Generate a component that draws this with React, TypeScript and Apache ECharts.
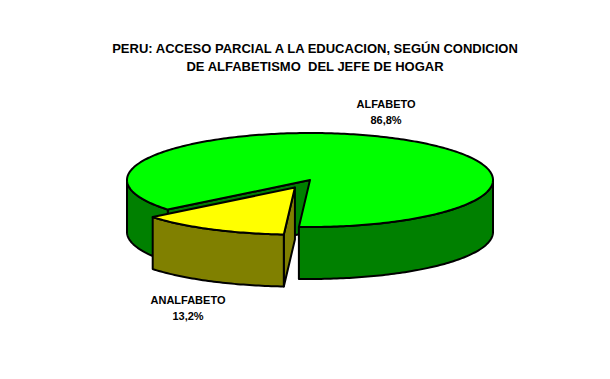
import React, { useEffect, useRef } from 'react';
import * as echarts from 'echarts';

// ---- data ----
const categories = ['ALFABETO', 'ANALFABETO'];
const shares = [86.8, 13.2];
const titleLines = [
  'PERU: ACCESO PARCIAL A LA EDUCACION, SEGÚN CONDICION',
  'DE ALFABETISMO  DEL JEFE DE HOGAR',
];

// ---- styling / layout ----
const topColors = ['#00FF00', '#FFFF00'];
const sideColors = ['#008000', '#808000'];
const explode = [0, 0.18];
const labelPos: [number, number][] = [
  [386, 112],
  [188, 308],
];
const CX = 310;
const CY = 180;
const RX = 183;
const RY = 47;
const DEPTH = 52;
const START = 141; // degrees, clockwise from 3 o'clock (screen coords)
const FONT = "'Liberation Sans', Arial, sans-serif";

const rad = (d: number) => (d * Math.PI) / 180;

function renderItem(params: any, api: any) {
  const i = params.dataIndex;
  const total = shares.reduce((a, b) => a + b, 0);
  let acc = 0;
  for (let j = 0; j < i; j++) acc += shares[j];
  const v = api.value(0);
  const a0 = START + (acc / total) * 360;
  const a1 = a0 + (v / total) * 360;
  const mid = rad((a0 + a1) / 2);
  const cx = CX + explode[i] * RX * Math.cos(mid);
  const cy = CY + explode[i] * RY * Math.sin(mid);
  const pt = (deg: number, dy = 0) => [
    cx + RX * Math.cos(rad(deg)),
    cy + RY * Math.sin(rad(deg)) + dy,
  ];
  const arc = (s: number, e: number, dy: number) => {
    const n = Math.max(2, Math.ceil(Math.abs(e - s)));
    const pts: number[][] = [];
    for (let k = 0; k <= n; k++) pts.push(pt(s + ((e - s) * k) / n, dy));
    return pts;
  };
  const stroke = { stroke: '#000', lineWidth: 2, lineJoin: 'round' };
  const poly = (points: number[][], fill: string) => ({
    type: 'polygon',
    shape: { points },
    style: { fill, ...stroke },
  });
  const children: any[] = [];
  const side = sideColors[i];
  // cut faces (only the ones facing the viewer)
  if (Math.cos(rad(a0)) < 0) {
    children.push(
      poly([[cx, cy], pt(a0), pt(a0, DEPTH), [cx, cy + DEPTH]], side)
    );
  }
  if (Math.cos(rad(a1)) > 0) {
    children.push(
      poly([[cx, cy], pt(a1), pt(a1, DEPTH), [cx, cy + DEPTH]], side)
    );
  }
  // outer wall, front-facing parts
  for (let k = Math.floor(a0 / 360) - 1; k <= Math.ceil(a1 / 360); k++) {
    const s = Math.max(a0, 360 * k);
    const e = Math.min(a1, 360 * k + 180);
    if (e > s) {
      children.push(poly(arc(s, e, 0).concat(arc(e, s, DEPTH)), side));
    }
  }
  // top face
  children.push(poly([[cx, cy], ...arc(a0, a1, 0)], topColors[i]));
  // label
  const pct = ((v / total) * 100).toFixed(1).replace('.', ',');
  children.push({
    type: 'text',
    x: labelPos[i][0],
    y: labelPos[i][1],
    style: {
      text: `${categories[i]}\n${pct}%`,
      textAlign: 'center',
      textVerticalAlign: 'middle',
      fontSize: 11,
      fontWeight: 'bold',
      fontFamily: FONT,
      lineHeight: 16,
      fill: '#000',
    },
  });
  return { type: 'group', children };
}

export default function App() {
  const ref = useRef<HTMLDivElement>(null);
  useEffect(() => {
    document.body.style.margin = '0';
    const chart = echarts.init(ref.current!, undefined, { renderer: 'svg' });
    chart.setOption({
      animation: false,
      backgroundColor: '#fff',
      graphic: [
        {
          type: 'text',
          x: 315,
          y: 57,
          style: {
            text: titleLines.join('\n'),
            textAlign: 'center',
            textVerticalAlign: 'middle',
            fontSize: 13,
            fontWeight: 'bold',
            fontFamily: FONT,
            lineHeight: 18,
            fill: '#000',
          },
        },
      ],
      series: [
        {
          type: 'custom',
          coordinateSystem: 'none',
          renderItem,
          data: shares.map((v, i) => ({ name: categories[i], value: [v] })),
        },
      ],
    });
    return () => chart.dispose();
  }, []);
  return (
    <div
      ref={ref}
      style={{ position: 'fixed', left: 0, top: 0, width: 610, height: 379 }}
    />
  );
}
